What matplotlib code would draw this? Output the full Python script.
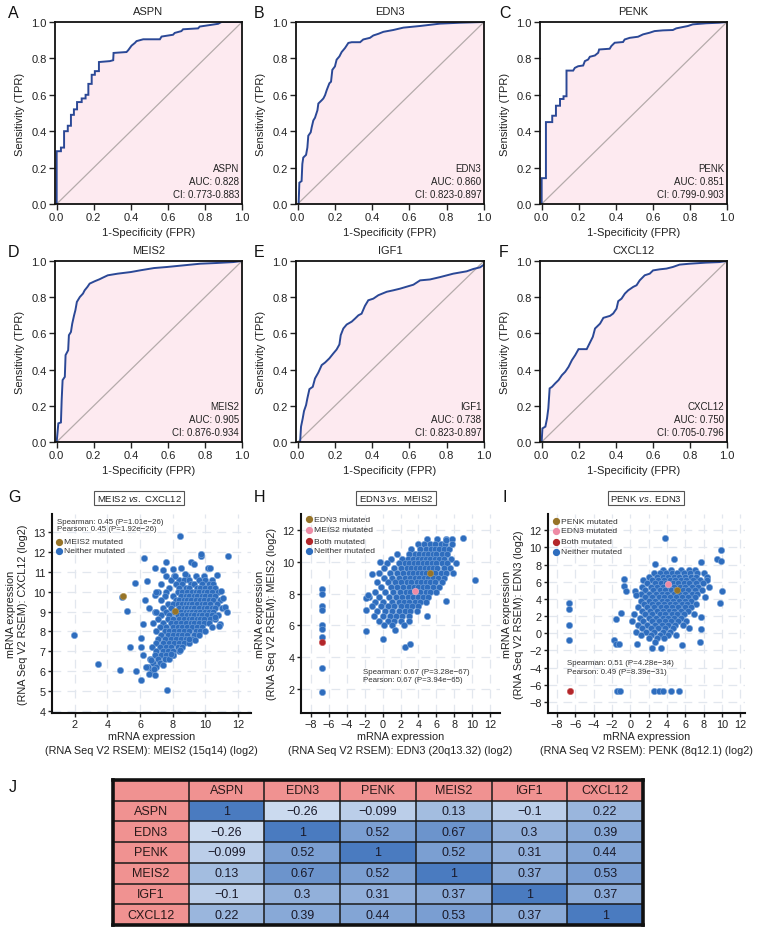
import numpy as np
import matplotlib
matplotlib.use('Agg')
import matplotlib.pyplot as plt
from matplotlib import font_manager as fm
from matplotlib.colors import LinearSegmentedColormap, Normalize
from matplotlib.patches import Rectangle
from matplotlib.lines import Line2D

# ---------------- DATA ----------------
genes = ['ASPN', 'EDN3', 'PENK', 'MEIS2', 'IGF1', 'CXCL12']
aucs = ['0.828', '0.860', '0.851', '0.905', '0.738', '0.750']
cis = ['0.773-0.883', '0.823-0.897', '0.799-0.903', '0.876-0.934', '0.823-0.897', '0.705-0.796']

aspn_fpr = [0, 0, 0.023, 0.023, 0.04, 0.04, 0.06, 0.06, 0.077, 0.077, 0.093, 0.093, 0.11, 0.11, 0.135, 0.135,
            0.156, 0.156, 0.171, 0.171, 0.189, 0.189, 0.206, 0.206, 0.228, 0.228, 0.287, 0.305, 0.307, 0.377,
            0.386, 0.404, 0.422, 0.431, 0.467, 0.557, 0.566, 0.628, 0.637, 0.673, 0.682, 0.763, 0.772, 0.871,
            0.889, 1.0]
aspn_tpr = [0, 0.29, 0.29, 0.31, 0.31, 0.40, 0.40, 0.43, 0.43, 0.49, 0.49, 0.52, 0.52, 0.56, 0.56, 0.58,
            0.58, 0.60, 0.60, 0.66, 0.66, 0.71, 0.71, 0.73, 0.73, 0.78, 0.785, 0.79, 0.83, 0.835,
            0.845, 0.87, 0.885, 0.895, 0.905, 0.905, 0.92, 0.93, 0.94, 0.95, 0.96, 0.965, 0.975, 0.99,
            1.0, 1.0]

edn3_fpr = [0.005, 0.009, 0.021, 0.025, 0.030, 0.045, 0.052, 0.057, 0.070, 0.075, 0.084, 0.093, 0.106, 0.111,
            0.129, 0.138, 0.147, 0.156, 0.170, 0.179, 0.186, 0.200, 0.209, 0.224, 0.236, 0.254, 0.272, 0.290,
            0.335, 0.352, 0.388, 0.406, 0.433, 0.460, 0.513, 0.567, 0.656, 0.764, 0.871, 1.0]
edn3_tpr = [0, 0.117, 0.126, 0.22, 0.255, 0.27, 0.31, 0.375, 0.394, 0.42, 0.459, 0.474, 0.515, 0.552,
            0.57, 0.58, 0.598, 0.626, 0.663, 0.672, 0.737, 0.756, 0.793, 0.811, 0.835, 0.857, 0.885, 0.889,
            0.889, 0.904, 0.913, 0.926, 0.935, 0.946, 0.956, 0.969, 0.978, 0.991, 0.996, 1.0]

penk_fpr = [0, 0, 0.023, 0.023, 0.057, 0.057, 0.077, 0.077, 0.099, 0.099, 0.118, 0.118, 0.134, 0.134, 0.170,
            0.179, 0.197, 0.224, 0.233, 0.251, 0.260, 0.287, 0.305, 0.310, 0.367, 0.376, 0.394, 0.439, 0.448,
            0.475, 0.520, 0.547, 0.582, 0.609, 0.654, 0.708, 0.726, 0.789, 0.815, 0.887, 0.958, 1.0]
penk_tpr = [0, 0.142, 0.142, 0.45, 0.45, 0.485, 0.485, 0.54, 0.54, 0.577, 0.577, 0.592, 0.592, 0.733, 0.733,
            0.748, 0.757, 0.761, 0.785, 0.794, 0.809, 0.816, 0.831, 0.849, 0.853, 0.868, 0.886, 0.89, 0.904,
            0.913, 0.919, 0.932, 0.941, 0.950, 0.954, 0.956, 0.965, 0.978, 0.987, 0.993, 0.996, 1.0]

meis2_fpr = [0, 0.009, 0.023, 0.027, 0.032, 0.044, 0.048, 0.062, 0.066, 0.077, 0.084, 0.094, 0.101, 0.109,
             0.125, 0.142, 0.151, 0.166, 0.178, 0.205, 0.231, 0.249, 0.276, 0.329, 0.400, 0.454, 0.525, 0.596,
             0.685, 0.774, 0.863, 0.952, 1.0]
meis2_tpr = [0, 0.103, 0.108, 0.232, 0.342, 0.360, 0.480, 0.507, 0.590, 0.608, 0.654, 0.70, 0.728, 0.774,
             0.801, 0.820, 0.838, 0.857, 0.875, 0.888, 0.899, 0.908, 0.921, 0.930, 0.939, 0.949, 0.961, 0.967,
             0.976, 0.985, 0.989, 0.994, 1.0]

igf1_fpr = [0.013, 0.018, 0.027, 0.034, 0.045, 0.052, 0.063, 0.081, 0.093, 0.111, 0.129, 0.147, 0.170, 0.191,
            0.209, 0.224, 0.231, 0.245, 0.263, 0.290, 0.308, 0.326, 0.343, 0.361, 0.379, 0.406, 0.433, 0.478,
            0.513, 0.549, 0.621, 0.657, 0.710, 0.764, 0.835, 0.907, 0.943, 0.979, 1.0]
igf1_tpr = [0, 0.085, 0.13, 0.171, 0.204, 0.241, 0.292, 0.305, 0.351, 0.384, 0.425, 0.439, 0.462, 0.489,
            0.511, 0.539, 0.590, 0.627, 0.649, 0.665, 0.682, 0.70, 0.709, 0.752, 0.783, 0.792, 0.811, 0.83,
            0.838, 0.847, 0.869, 0.893, 0.898, 0.911, 0.930, 0.943, 0.956, 0.965, 0.98]

cxcl12_fpr = [0, 0.004, 0.020, 0.029, 0.036, 0.043, 0.056, 0.073, 0.091, 0.109, 0.127, 0.145, 0.163, 0.181,
              0.199, 0.243, 0.258, 0.276, 0.288, 0.315, 0.333, 0.369, 0.386, 0.404, 0.413, 0.431, 0.449, 0.467,
              0.494, 0.512, 0.529, 0.556, 0.583, 0.601, 0.637, 0.673, 0.708, 0.744, 0.798, 0.887, 0.959, 1.0]
cxcl12_tpr = [0, 0.075, 0.085, 0.131, 0.186, 0.296, 0.305, 0.324, 0.342, 0.369, 0.388, 0.415, 0.452, 0.480,
              0.513, 0.513, 0.544, 0.581, 0.627, 0.654, 0.686, 0.697, 0.710, 0.737, 0.778, 0.792, 0.82, 0.838,
              0.857, 0.866, 0.893, 0.921, 0.930, 0.948, 0.954, 0.958, 0.967, 0.980, 0.985, 0.991, 0.994, 1.0]

# ---- Scatter G: MEIS2 (x) vs CXCL12 (y) ----
g_rows = {
    10.8: [7.6, 8.1, 8.9, 9.4, 9.9],
    10.6: [7.9, 8.4, 8.7, 9.0, 9.6, 10.0, 10.4],
    10.4: [7.3, 8.2, 8.6, 9.1, 9.3, 9.8, 10.2, 10.5],
    10.2: [7.8, 8.4, 8.8, 9.0, 9.5, 9.7, 10.0, 10.3, 10.6],
    10.0: [7.1, 7.6, 8.3, 8.6, 8.9, 9.2, 9.4, 9.6, 9.9, 10.1, 10.4, 10.8],
    9.8: [7.5, 8.0, 8.5, 8.8, 9.0, 9.3, 9.5, 9.8, 10.0, 10.3, 10.6],
    9.6: [7.3, 8.2, 8.4, 8.7, 8.9, 9.1, 9.4, 9.7, 9.9, 10.2, 10.5, 10.9],
    9.4: [7.7, 8.0, 8.3, 8.6, 8.8, 9.0, 9.2, 9.5, 9.8, 10.0, 10.3, 10.7],
    9.2: [7.4, 7.9, 8.4, 8.7, 8.9, 9.1, 9.3, 9.6, 9.9, 10.1, 10.4, 10.6, 11.0],
    9.0: [6.9, 7.6, 8.1, 8.5, 8.8, 9.0, 9.2, 9.4, 9.7, 10.0, 10.2, 10.5],
    8.8: [7.3, 7.8, 8.3, 8.6, 8.9, 9.1, 9.3, 9.6, 9.8, 10.1, 10.4, 10.8],
    8.6: [7.1, 7.7, 8.0, 8.4, 8.7, 9.0, 9.2, 9.5, 9.7, 9.9, 10.3, 10.6],
    8.4: [6.8, 7.4, 7.9, 8.2, 8.5, 8.8, 9.1, 9.3, 9.6, 9.9, 10.2],
    8.2: [7.2, 7.6, 8.0, 8.3, 8.6, 8.9, 9.2, 9.5, 9.8, 10.4],
    8.0: [7.0, 7.5, 7.8, 8.1, 8.4, 8.7, 9.0, 9.4, 9.7, 10.0],
    7.8: [7.3, 7.7, 8.0, 8.3, 8.6, 8.9, 9.3, 9.6],
    7.6: [7.1, 7.5, 7.9, 8.2, 8.5, 8.8, 9.2],
    7.4: [7.0, 7.4, 7.8, 8.1, 8.4, 8.7, 9.0],
    7.2: [6.7, 7.2, 7.6, 7.9, 8.3, 8.6],
    7.0: [7.0, 7.4, 7.7, 8.0, 8.4],
    6.8: [6.9, 7.3, 7.6, 8.0],
    6.6: [6.6, 7.1, 7.5, 7.8],
    6.4: [6.8, 7.2],
    6.2: [6.5, 7.0],
    6.0: [6.7],
}
g_out_x = [1.94, 3.43, 4.76, 5.67, 6.22, 4.88, 5.22, 5.37, 5.73, 6.08, 6.06, 6.06, 6.18, 6.31, 6.41, 6.53,
           6.53, 6.18, 6.39, 6.92, 6.84, 6.9, 6.69, 6.96, 6.92, 7.0, 7.41, 7.61, 7.43, 7.65, 8.02, 8.12, 8.49,
           8.73, 9.14, 9.29, 9.71, 9.76, 10.16, 10.31, 10.73, 10.98, 11.08, 11.2, 11.35, 11.41, 10.88, 10.82,
           10.57, 9.35, 8.98, 8.43, 8.02, 7.92, 8.43]
g_out_y = [7.83, 6.35, 6.05, 10.42, 11.67, 9.72, 9.05, 7.22, 6.0, 7.67, 7.22, 5.58, 8.38, 9.58, 10.52, 9.17,
           5.88, 6.8, 6.22, 11.17, 6.1, 5.8, 6.55, 9.0, 9.83, 9.97, 11.1, 11.5, 6.3, 5.05, 11.13, 10.8, 11.2,
           10.88, 11.47, 11.38, 11.8, 11.88, 11.17, 11.17, 10.85, 10.05, 9.67, 9.25, 8.97, 11.77, 8.38, 8.27,
           8.72, 7.55, 7.63, 7.05, 6.8, 6.88, 12.77]
g_mut_x = [4.98, 8.12]
g_mut_y = [9.8, 9.05]

# ---- Scatter H: EDN3 (x) vs MEIS2 (y) ----
h_rows = {
    11.4: [5.0, 6.1, 7.1, 7.8],
    11.1: [4.0, 4.6, 5.3, 5.8, 6.5, 7.0],
    10.8: [3.2, 4.2, 4.8, 5.4, 5.9, 6.3, 6.8, 7.4],
    10.5: [1.6, 3.0, 3.6, 4.1, 4.6, 5.1, 5.6, 6.0, 6.6, 7.2],
    10.2: [0.9, 2.2, 2.8, 3.4, 3.9, 4.4, 4.9, 5.3, 5.8, 6.3, 6.9, 7.6],
    9.9: [0.5, 1.8, 2.5, 3.0, 3.5, 4.0, 4.5, 5.0, 5.5, 6.0, 6.6, 7.2, 8.2],
    9.6: [0.2, 1.3, 2.0, 2.7, 3.2, 3.7, 4.2, 4.7, 5.2, 5.6, 6.1, 6.8, 7.5],
    9.3: [-0.4, 0.8, 1.6, 2.3, 2.9, 3.4, 3.9, 4.4, 4.9, 5.4, 5.9, 6.5, 7.1, 7.9],
    9.0: [0.2, 1.1, 1.8, 2.5, 3.1, 3.6, 4.1, 4.6, 5.1, 5.6, 6.2, 6.8],
    8.7: [-0.6, 0.6, 1.4, 2.0, 2.7, 3.2, 3.8, 4.3, 4.8, 5.3, 5.9, 6.6],
    8.4: [-0.2, 0.9, 1.6, 2.3, 2.9, 3.5, 4.0, 4.5, 5.0, 5.6, 6.3],
    8.1: [-0.8, 0.3, 1.2, 1.9, 2.6, 3.1, 3.7, 4.2, 4.8, 5.3, 6.0],
    7.8: [-1.5, -0.4, 0.7, 1.5, 2.2, 2.8, 3.4, 3.9, 4.5, 5.1],
    7.5: [-0.9, 0.1, 1.0, 1.8, 2.4, 3.0, 3.6, 4.2, 4.9],
    7.2: [-1.2, -0.2, 0.6, 1.3, 2.0, 2.7, 3.3, 4.0],
    6.9: [-0.6, 0.3, 1.1, 1.8, 2.5, 3.1, 3.8],
    6.6: [-1.0, 0.0, 0.8, 1.5, 2.2, 2.9],
    6.3: [-0.4, 0.6, 1.3, 2.0, 3.0],
    6.0: [0.2, 1.0, 2.4],
    5.7: [1.4],
}
h_out_x = [-6.75, -6.75, -6.75, -6.75, -6.75, -6.75, -6.75, -6.75, -6.75, -1.89, 0.04, 2.47, 3.1, 10.29, 7.05,
           5.0, -1.89, -1.63, -1.82, -1.15, -0.33, 8.98, 7.8, 7.05]
h_out_y = [8.3, 8.0, 7.2, 7.0, 6.05, 5.75, 5.3, 3.35, 1.85, 5.63, 5.15, 4.66, 4.83, 8.88, 7.51,
           6.62, 7.74, 7.89, 6.94, 9.26, 9.96, 11.5, 11.1, 11.35]
h_edn3_mut = (5.26, 9.3)
h_meis2_mut = (3.58, 8.14)
h_both_mut = (-6.75, 4.93)

# ---- Scatter I: PENK (x) vs EDN3 (y) ----
i_rows = {
    7.4: [3.5, 4.4, 5.5, 6.4, 7.0],
    7.0: [2.6, 3.2, 3.9, 4.5, 5.1, 5.8, 6.5, 7.3, 8.0],
    6.6: [2.0, 2.9, 3.5, 4.1, 4.7, 5.3, 5.9, 6.6, 7.2, 8.3],
    6.2: [1.4, 2.4, 3.0, 3.7, 4.3, 4.9, 5.5, 6.1, 6.8, 7.6, 8.4],
    5.8: [1.8, 2.7, 3.3, 3.9, 4.6, 5.2, 5.8, 6.4, 7.1, 7.9],
    5.4: [1.3, 2.2, 2.9, 3.5, 4.1, 4.7, 5.4, 6.0, 6.7, 7.4, 8.6],
    5.0: [1.6, 2.5, 3.2, 3.8, 4.4, 5.0, 5.7, 6.3, 7.0, 7.8],
    4.6: [1.1, 2.0, 2.8, 3.4, 4.0, 4.7, 5.3, 6.0, 6.7, 7.3],
    4.2: [1.6, 2.4, 3.1, 3.7, 4.3, 5.0, 5.6, 6.3, 7.0, 8.1],
    3.8: [1.2, 2.0, 2.7, 3.4, 4.0, 4.6, 5.3, 5.9, 6.6],
    3.4: [1.5, 2.3, 3.0, 3.7, 4.3, 4.9, 5.6, 6.2, 7.2],
    3.0: [0.8, 1.8, 2.6, 3.3, 3.9, 4.5, 5.2, 5.9, 6.6],
    2.6: [1.3, 2.1, 2.9, 3.6, 4.2, 4.8, 5.5, 6.3],
    2.2: [0.4, 1.6, 2.4, 3.2, 3.8, 4.5, 5.1, 5.8, 6.9],
    1.8: [1.0, 2.0, 2.8, 3.5, 4.1, 4.8, 5.5],
    1.4: [0.2, 1.4, 2.3, 3.1, 3.8, 4.4, 5.2, 6.1],
    1.0: [0.8, 1.8, 2.7, 3.4, 4.1, 4.9, 5.7],
    0.6: [1.3, 2.2, 3.0, 3.8, 4.6, 6.4],
    0.2: [0.6, 1.7, 2.6, 3.5, 4.3],
    -0.2: [1.2, 2.2, 3.2, 4.1, 5.0],
    -0.6: [2.0, 2.9, 3.7],
    -1.0: [2.7],
}
i_out_x = [-6.72, -6.72, -6.72, -6.72, -1.44, -1.1, 2.6, 3.15, 3.6, 4.45, 5.3, 3.73, 4.71, 2.71, -0.75, -0.75,
           -0.46, 0.45, 0.63, 9.92, 9.45, 9.85, 10.03, 9.74, -1.84, -1.55, -1.3, -1.62, -1.0, 2.35, 3.37, 5.63,
           7.56, 7.67, 7.74, 0.71, 7.67]
i_out_y = [3.57, 2.87, 0.93, -0.82, -6.7, -6.7, -6.7, -6.7, -6.7, -6.7, -6.7, 11.07, 8.62, 8.04, 6.37, 5.51,
           4.93, 4.93, 4.43, 9.71, 8.62, 8.43, 4.93, 3.5, -0.82, -1.28, -1.2, 1.63, 2.33, -1.67, -1.67, -1.4,
           -0.97, 0.54, 1.94, -1.2, 8.35]
i_penk_mut = (5.08, 5.05)
i_edn3_mut = (4.09, 5.79)
i_both_mut = (-6.6, -6.7)

# ---- Correlation table ----
tbl_genes = ['ASPN', 'EDN3', 'PENK', 'MEIS2', 'IGF1', 'CXCL12']
corr = [[1, -0.26, -0.099, 0.13, -0.1, 0.22],
        [-0.26, 1, 0.52, 0.67, 0.3, 0.39],
        [-0.099, 0.52, 1, 0.52, 0.31, 0.44],
        [0.13, 0.67, 0.52, 1, 0.37, 0.53],
        [-0.1, 0.3, 0.31, 0.37, 1, 0.37],
        [0.22, 0.39, 0.44, 0.53, 0.37, 1]]

# ---------------- STYLE ----------------
W, H = 759, 929
plt.rcParams['font.family'] = ['Liberation Sans', 'DejaVu Sans']
plt.rcParams['mathtext.fontset'] = 'custom'
plt.rcParams['mathtext.rm'] = 'Liberation Sans'
plt.rcParams['mathtext.it'] = 'Liberation Sans:italic'

try:
    fm.findfont(fm.FontProperties(family='Liberation Sans Narrow'), fallback_to_default=False)
    narrow = ['Liberation Sans Narrow', 'DejaVu Sans']
except Exception:
    narrow = ['Liberation Sans', 'DejaVu Sans']

fig = plt.figure(figsize=(W / 100, H / 100), dpi=100)


def rect(l, t, r, b):
    return [l / W, 1 - b / H, (r - l) / W, (b - t) / H]


def fx(x):
    return x / W


def fy(y):
    return 1 - y / H


# ---------------- ROC PANELS ----------------
roc_data = [(aspn_fpr, aspn_tpr), (edn3_fpr, edn3_tpr), (penk_fpr, penk_tpr),
            (meis2_fpr, meis2_tpr), (igf1_fpr, igf1_tpr), (cxcl12_fpr, cxcl12_tpr)]
roc_boxes = [(55, 23, 242, 205), (296, 23, 484, 205), (540, 23, 727, 205),
             (55, 262, 242, 443), (296, 262, 484, 443), (540, 262, 727, 443)]
letters = ['A', 'B', 'C', 'D', 'E', 'F']
letter_x = [8, 254, 499]
for k in range(6):
    l, t, r, b = roc_boxes[k]
    ax = fig.add_axes(rect(l, t, r, b))
    fpr, tpr = roc_data[k]
    ax.fill_between(fpr, tpr, 0, color='#FDEAF0', lw=0)
    ax.plot([0, 1], [0, 1], color='#B5ABAB', lw=0.9)
    ax.plot(fpr, tpr, color='#2B4896', lw=1.4, solid_joinstyle='miter')
    ax.set_xlim(-0.009, 1.0)
    ax.set_ylim(0, 1.0)
    ax.set_xticks([0, 0.2, 0.4, 0.6, 0.8, 1.0])
    ax.set_yticks([0, 0.2, 0.4, 0.6, 0.8, 1.0])
    ax.set_xticklabels(['0.0', '0.2', '0.4', '0.6', '0.8', '1.0'])
    ax.set_yticklabels(['0.0', '0.2', '0.4', '0.6', '0.8', '1.0'])
    ax.tick_params(labelsize=8, length=4, width=1, pad=2, color='#222222', labelcolor='#222222')
    for s in ax.spines.values():
        s.set_linewidth(1.3)
        s.set_color('#111111')
    ax.text(0.985, 0.03, f'{genes[k]}\nAUC: {aucs[k]}\nCI: {cis[k]}', transform=ax.transAxes,
            ha='right', va='bottom', fontsize=7, linespacing=1.35, color='#222222')
    cx = (l + r) / 2
    fig.text(fx(cx), fy(t - 11), genes[k], ha='center', va='center', fontsize=8, color='#222222')
    fig.text(fx(cx), fy(b + 28), '1-Specificity (FPR)', ha='center', va='center', fontsize=8, color='#222222')
    fig.text(fx(l - 35), fy((t + b) / 2), 'Sensitivity (TPR)', rotation=90, ha='center', va='center',
             fontsize=8, color='#222222')
    fig.text(fx(letter_x[k % 3]), fy(t - 9), letters[k], ha='left', va='center', fontsize=11.5, color='#111111')

# ---------------- SCATTER PANELS ----------------
blue_face = '#2E6DBE'
blue_edge = '#7AA5DB'
PS = 21


def rows_to_xy(rows):
    xs, ys = [], []
    for yv, xl in rows.items():
        for xv in xl:
            xs.append(xv)
            ys.append(yv)
    return xs, ys


def style_scatter(ax, xlim, ylim, xticks, yticks):
    ax.set_xlim(*xlim)
    ax.set_ylim(*ylim)
    ax.set_xticks(xticks)
    ax.set_yticks(yticks)
    ax.grid(True, color='#E2E7EE', lw=0.9, linestyle=(0, (7, 5)))
    ax.set_axisbelow(True)
    for sp in ['top', 'right']:
        ax.spines[sp].set_visible(False)
    for sp in ['left', 'bottom']:
        ax.spines[sp].set_linewidth(1.5)
        ax.spines[sp].set_color('#111111')
    ax.tick_params(labelsize=7.8, length=3, width=1, pad=1.5, color='#222222', labelcolor='#222222')


scat_boxes = [(52, 515, 251, 714), (301, 515, 500, 714), (548, 515, 745, 714)]
scat_titles = [r'MEIS2 $\it{vs.}$ CXCL12', r'EDN3 $\it{vs.}$ MEIS2', r'PENK $\it{vs.}$ EDN3']
scat_xlab = ['(RNA Seq V2 RSEM): MEIS2 (15q14) (log2)', '(RNA Seq V2 RSEM): EDN3 (20q13.32) (log2)',
             '(RNA Seq V2 RSEM): PENK (8q12.1) (log2)']
scat_ylab = ['(RNA Seq V2 RSEM): CXCL12 (log2)', '(RNA Seq V2 RSEM): MEIS2 (log2)', '(RNA Seq V2 RSEM): EDN3 (log2)']
brown = '#977428'
pink = '#EE8BA5'
red = '#B3262A'

# G
l, t, r, b = scat_boxes[0]
axg = fig.add_axes(rect(l, t, r, b))
gx, gy = rows_to_xy(g_rows)
gx += g_out_x
gy += g_out_y
axg.scatter(gx, gy, s=PS, c=blue_face, edgecolors=blue_edge, linewidths=0.4, zorder=3)
axg.scatter(g_mut_x, g_mut_y, s=PS, c=brown, edgecolors='#B89A55', linewidths=0.4, zorder=4)
style_scatter(axg, (0.6, 12.8), (3.9, 13.9), [2, 4, 6, 8, 10, 12], list(range(4, 14)))

# H
l, t, r, b = scat_boxes[1]
axh = fig.add_axes(rect(l, t, r, b))
hx, hy = rows_to_xy(h_rows)
hx += h_out_x
hy += h_out_y
axh.scatter(hx, hy, s=PS, c=blue_face, edgecolors=blue_edge, linewidths=0.4, zorder=3)
axh.scatter([h_edn3_mut[0]], [h_edn3_mut[1]], s=PS, c=brown, edgecolors='#B89A55', linewidths=0.4, zorder=4)
axh.scatter([h_meis2_mut[0]], [h_meis2_mut[1]], s=PS, c=pink, edgecolors='#F5B5C5', linewidths=0.4, zorder=4)
axh.scatter([h_both_mut[0]], [h_both_mut[1]], s=PS, c=red, edgecolors='#CC5A5A', linewidths=0.4, zorder=4)
style_scatter(axh, (-9.1, 13.1), (0.5, 13.0), list(range(-8, 13, 2)), [2, 4, 6, 8, 10, 12])

# I
l, t, r, b = scat_boxes[2]
axi = fig.add_axes(rect(l, t, r, b))
ix, iy = rows_to_xy(i_rows)
ix += i_out_x
iy += i_out_y
axi.scatter(ix, iy, s=PS, c=blue_face, edgecolors=blue_edge, linewidths=0.4, zorder=3)
axi.scatter([i_penk_mut[0]], [i_penk_mut[1]], s=PS, c=brown, edgecolors='#B89A55', linewidths=0.4, zorder=4)
axi.scatter([i_edn3_mut[0]], [i_edn3_mut[1]], s=PS, c=pink, edgecolors='#F5B5C5', linewidths=0.4, zorder=4)
axi.scatter([i_both_mut[0]], [i_both_mut[1]], s=PS, c=red, edgecolors='#CC5A5A', linewidths=0.4, zorder=4)
style_scatter(axi, (-9.0, 12.5), (-9.3, 13.9), list(range(-8, 13, 2)), list(range(-8, 13, 2)))

scat_letters = ['G', 'H', 'I']
scat_letter_x = [8, 254, 502]
title_cx = [139, 396, 646]
for k, (l, t, r, b) in enumerate(scat_boxes):
    cx = (l + r) / 2
    fig.text(fx(cx), fy(b + 23), 'mRNA expression', ha='center', va='center', fontsize=7.8, color='#222222')
    fig.text(fx(cx), fy(b + 37), scat_xlab[k], ha='center', va='center', fontsize=7.8, color='#222222')
    fig.text(fx(l - 35), fy((t + b) / 2), 'mRNA expression\n' + scat_ylab[k], rotation=90, ha='center',
             va='center', fontsize=7.8, linespacing=1.25, multialignment='center', color='#222222')
    fig.text(fx(scat_letter_x[k]), fy(t - 17), scat_letters[k], ha='left', va='center', fontsize=11.5,
             color='#111111')
    fig.text(fx(title_cx[k]), fy(t - 16), scat_titles[k], ha='center', va='center', fontsize=6.8,
             color='#222222',
             bbox=dict(boxstyle='square,pad=0.25', facecolor='white', edgecolor='#555555', linewidth=0.8))


def legend(x0, ys, labels, colors):
    for yy, lab, col in zip(ys, labels, colors):
        fig.add_artist(Line2D([fx(x0)], [fy(yy)], marker='o', markersize=4.2, markerfacecolor=col,
                              markeredgecolor=col, linestyle='none', transform=fig.transFigure))
        fig.text(fx(x0 + 5), fy(yy), lab, fontsize=6.1, ha='left', va='center', color='#333333')


legend(59, [543, 551.5], ['MEIS2 mutated', 'Neither mutated'], [brown, blue_face])
fig.text(fx(57), fy(522), 'Spearman: 0.45 (P=1.01e\u221226)', fontsize=5.7, ha='left', va='center', color='#333333')
fig.text(fx(57), fy(530), 'Pearson: 0.45 (P=1.92e\u221226)', fontsize=5.7, ha='left', va='center', color='#333333')

legend(309, [520, 531, 542, 552], ['EDN3 mutated', 'MEIS2 mutated', 'Both mutated', 'Neither mutated'],
       [brown, pink, red, blue_face])
fig.text(fx(363), fy(672), 'Spearman: 0.67 (P=3.28e\u221267)', fontsize=5.7, ha='left', va='center', color='#333333')
fig.text(fx(363), fy(681), 'Pearson: 0.67 (P=3.94e\u221265)', fontsize=5.7, ha='left', va='center', color='#333333')

legend(556, [522, 532, 543, 553], ['PENK mutated', 'EDN3 mutated', 'Both mutated', 'Neither mutated'],
       [brown, pink, red, blue_face])
fig.text(fx(567), fy(664), 'Spearman: 0.51 (P=4.28e\u221234)', fontsize=5.7, ha='left', va='center', color='#333333')
fig.text(fx(567), fy(673), 'Pearson: 0.49 (P=8.39e\u221231)', fontsize=5.7, ha='left', va='center', color='#333333')

# ---------------- TABLE ----------------
axt = fig.add_axes(rect(113, 781, 643, 926))
n = len(tbl_genes)
axt.set_xlim(0, n + 1)
axt.set_ylim(n + 1, 0)
axt.set_xticks([])
axt.set_yticks([])
salmon = '#F09291'
axt.add_patch(Rectangle((0, 0), n + 1, 1, facecolor=salmon, edgecolor='none'))
axt.add_patch(Rectangle((0, 0), 1, n + 1, facecolor=salmon, edgecolor='none'))
cmap = LinearSegmentedColormap.from_list('bl', ['#CBDAEF', '#4A7BC0'])
edges = np.arange(1, n + 2)
axt.pcolormesh(edges, edges, np.array(corr, dtype=float), cmap=cmap, norm=Normalize(-0.26, 1.0),
               shading='flat')
for i in range(1, n + 1):
    axt.axhline(i, color='#1a1a1a', lw=1.1)
    axt.axvline(i, color='#1a1a1a', lw=1.1)
for s in axt.spines.values():
    s.set_linewidth(2.6)
    s.set_color('#111111')


def fmt(v):
    return f'{v:g}'.replace('-', '\u2212')


for j, g in enumerate(tbl_genes):
    axt.text(j + 1.5, 0.5, g, ha='center', va='center', fontsize=9, family=narrow, color='#2a1a1a')
    axt.text(0.5, j + 1.5, g, ha='center', va='center', fontsize=9, family=narrow, color='#2a1a1a')
for i in range(n):
    for j in range(n):
        axt.text(j + 1.5, i + 1.5, fmt(corr[i][j]), ha='center', va='center', fontsize=9, family=narrow,
                 color='#1a1a2a')

fig.text(fx(9), fy(787), 'J', ha='left', va='center', fontsize=11.5, color='#111111')

fig.savefig('out.png', dpi=100)
